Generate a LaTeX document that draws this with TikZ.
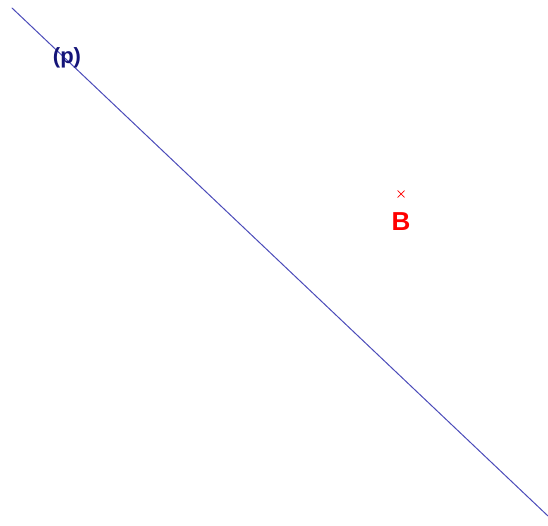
\documentclass[tikz,border=0pt]{standalone}
\usepackage{fontspec}
\setmainfont{Liberation Sans}
\usetikzlibrary{shapes.misc,positioning}
\definecolor{linieblau}{RGB}{75,75,185}
\definecolor{namenblau}{RGB}{20,20,120}
\begin{document}
\begin{tikzpicture}[x=1pt, y=-1pt, line join=round, line cap=round,
		punkt/.style={cross out, draw=red, minimum size=6pt, inner sep=0pt, line width=0.7pt},
		beschrift/.style={font=\bfseries\fontsize{#1}{#1}\selectfont, inner sep=0pt}]
			\useasboundingbox (0,0) rectangle (548,526);
			\coordinate (p1) at (12,8);
			\coordinate (p2) at (548,516);
			\draw[linieblau, line width=1pt] (p1) -- (p2);
			\node[beschrift=22, text=namenblau] (pname) at (67,58) {(p)};
			\node[punkt] (B) at (401,194) {};
			\node[beschrift=26, text=red, below=15pt of B] (Bname) {B};
		\end{tikzpicture}
\end{document}
